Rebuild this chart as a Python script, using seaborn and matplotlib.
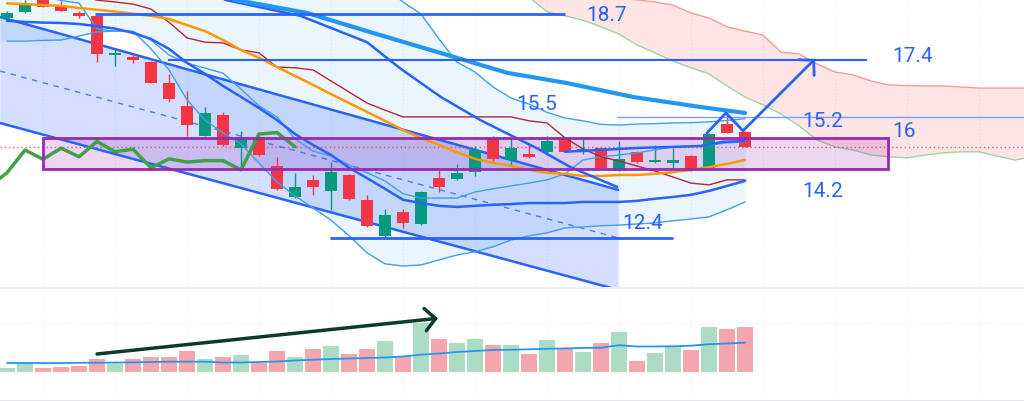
import numpy as np
import pandas as pd
import matplotlib
matplotlib.use("Agg")
import matplotlib.pyplot as plt
from matplotlib.patches import Rectangle
import seaborn as sns

sns.set_theme(style="white")
plt.rcParams["font.family"] = ["Roboto", "DejaVu Sans"]

# candles (price)
opens = [18.59, 18.74, 19.14, 18.92, 18.71, 18.64, 17.55, 17.49, 17.35, 16.75, 16.11, 15.27, 15.86, 14.94,
         15.23, 14.43, 13.54, 14.03, 13.72, 14.17, 13.47, 12.44, 13.14, 12.78, 14.08, 14.06, 14.26, 15.18,
         14.59, 14.76, 14.82, 15.22, 14.81, 14.92, 14.29, 14.82, 14.53, 14.52, 14.70, 14.36, 15.60, 15.37]
highs = [18.78, 19.09, 19.17, 19.06, 18.78, 18.72, 17.75, 17.59, 17.37, 17.01, 16.53, 16.07, 15.95, 15.41,
         15.32, 14.68, 14.22, 14.17, 14.54, 14.20, 13.61, 13.21, 13.21, 13.72, 14.31, 14.47, 14.98, 15.25,
         15.20, 15.07, 15.27, 15.24, 15.17, 14.96, 15.11, 14.84, 15.01, 14.92, 14.73, 15.35, 15.85, 15.41]
lows = [18.55, 18.72, 18.89, 18.78, 18.57, 17.35, 17.24, 17.31, 16.74, 16.23, 15.25, 15.25, 14.98, 14.42,
        14.70, 13.75, 13.52, 13.61, 13.17, 13.47, 12.71, 12.43, 12.69, 12.77, 13.70, 14.03, 14.14, 14.56,
        14.45, 14.65, 14.73, 14.82, 14.75, 14.37, 14.28, 14.51, 14.50, 14.36, 14.28, 14.34, 15.35, 14.96]
closes = [18.73, 19.01, 18.90, 18.78, 18.64, 17.56, 17.60, 17.40, 16.76, 16.30, 15.57, 15.90, 15.01, 15.17,
          14.73, 13.77, 13.82, 13.84, 14.26, 13.49, 12.74, 13.03, 12.83, 13.68, 13.84, 14.23, 14.87, 14.61,
          14.92, 14.68, 15.11, 14.82, 14.89, 14.37, 14.62, 14.53, 14.57, 14.57, 14.31, 15.32, 15.36, 14.96]
volumes = [86, 186, 86, 106, 126, 260, 154, 260, 294, 294, 414, 260, 294, 334, 180, 414, 294, 466, 514, 354,
           454, 614, 294, 980, 660, 580, 660, 546, 546, 366, 634, 486, 400, 586, 794, 214, 380, 526, 434,
           894, 860, 894]
volume_ma = [180, 180, 180, 180, 184, 186, 188, 192, 200, 206, 206, 206, 190, 190, 200, 210, 230, 246, 260,
             270, 280, 290, 310, 346, 370, 400, 420, 440, 446, 454, 464, 472, 480, 486, 536, 510, 510, 514,
             526, 556, 570, 586]

# indicator lines, one value per bar
ema_orange = [18.99, 18.97, 18.94, 18.92, 18.86, 18.81, 18.76, 18.70, 18.64, 18.55, 18.38, 18.21, 17.96,
              17.68, 17.46, 17.20, 16.95, 16.70, 16.44, 16.19, 15.94, 15.69, 15.43, 15.21, 15.01, 14.81,
              14.62, 14.51, 14.42, 14.31, 14.23, 14.20, 14.14, 14.14, 14.17, 14.17, 14.20, 14.25, 14.31,
              14.39, 14.48, 14.59]
kijun = [19.25, 19.08, 19.03, 18.97, 18.83, 18.46, 18.02, 17.90, 17.88, 17.68, 17.60, 17.20, 17.18, 17.12,
         16.81, 16.50, 16.19, 15.99, 15.80, 15.80, 15.80, 15.80, 15.80, 15.80, 15.80, 15.69, 15.63, 15.21,
         14.90, 14.68, 14.56, 14.42, 14.28, 14.11, 13.94, 13.89, 14.03, 14.03]  # from bar 4
basis = [18.50, 18.47, 18.45, 18.44, 18.41, 18.35, 18.28, 18.16, 17.99, 17.71, 17.32, 17.01, 16.67, 16.36,
         16.05, 15.71, 15.32, 15.01, 14.73, 14.37, 14.08, 13.78, 13.47, 13.38, 13.30, 13.27, 13.30, 13.33,
         13.35, 13.38, 13.38, 13.38, 13.41, 13.41, 13.41, 13.44, 13.50, 13.55, 13.61, 13.72, 13.86, 14.00]
fast_line = [17.93, 17.93, 17.95, 17.96, 18.07, 18.19, 18.21, 18.20, 17.96, 17.54, 17.31, 17.17, 17.03,
             16.58, 16.11, 15.80, 15.18, 14.84, 14.70, 14.45, 14.23, 14.00, 13.64, 13.52, 13.52, 13.52,
             13.69, 13.78, 13.86, 13.94, 14.03, 14.20, 14.59, 14.68, 14.73, 14.79, 14.87, 14.96, 14.98,
             15.01, 15.07, 15.10]
band_lower = [19.65, 19.37, 19.20, 19.07, 19.00, 18.27, 18.21, 18.21, 17.71, 17.12, 16.28, 15.71, 15.35,
              15.04, 14.50, 13.97, 13.58, 13.24, 12.90, 12.46, 11.98, 11.67, 11.61, 11.64, 11.78, 11.92,
              12.01, 12.15, 12.34, 12.46, 12.54, 12.68, 12.71, 12.74, 12.76, 12.79, 12.82, 12.88, 12.93,
              12.99, 13.19, 13.41]
band_upper = [19.42, 19.03, 18.69, 17.99, 17.34, 17.06, 16.64, 16.33, 16.16, 15.93, 15.77, 15.69, 15.59,
              15.57, 15.60, 15.61, 15.63, 15.64, 15.66, 15.70, 15.75]  # from bar 21

# cloud, from bar 29
span_a = [19.79, 19.65, 19.51, 19.37, 19.25, 19.14, 19.09, 19.03, 18.94, 18.72, 18.58, 18.33, 18.21, 18.10,
          17.62, 17.57, 17.29, 17.06, 16.98, 16.81, 16.70, 16.68, 16.67, 16.67, 16.64, 16.61, 16.61, 16.61,
          16.61]
span_b = [19.17, 18.75, 18.64, 18.52, 18.33, 18.13, 17.82, 17.60, 17.37, 17.18, 17.01, 16.67, 16.36, 16.14,
          15.88, 15.55, 15.15, 14.96, 14.87, 14.73, 14.68, 14.65, 14.73, 14.79, 14.82, 14.82, 14.70, 14.59,
          14.68]

# drawn trend lines (bar index, price)
trend_x = [12.67, 16.67, 20.33, 24.06, 27.78, 31.11, 34.78, 38.5, 41.0]
trend_y = [19.09, 18.72, 18.16, 17.60, 17.04, 16.75, 16.36, 16.08, 15.91]
curve_x = [12.1, 16.3, 20.0, 21.8, 24.1, 26.3, 27.6, 29.4, 31.3, 33.9]
curve_y = [19.09, 18.64, 17.90, 17.18, 16.36, 15.71, 15.38, 14.93, 14.39, 13.83]
inner_x = [31.0, 32.94, 35.17, 38.5, 39.78, 41.0]
inner_y = [14.82, 14.87, 14.93, 14.98, 15.10, 15.12]
chan_x = [-0.4, 33.95]
chan_upper = [18.61, 13.75]
chan_mid = [17.09, 12.40]
chan_lower = [15.63, 10.94]
box_x = [2.0, 48.94]
box_price = [14.34, 15.2]
path_x = [38.89, 39.94, 40.89, 44.89]
path_y = [15.35, 15.91, 15.41, 17.43]
vol_arrow_x = [5.0, 23.94]
vol_arrow_y = [360, 1074]

# horizontal levels: (price, start bar, end bar)
levels = [(18.7, 4.9, 31.0, 2.0), (17.4, 8.94, 47.8, 1.5), (12.4, 17.94, 37.0, 2.0)]
thin_level = (15.8, 33.9, 56.5)

labels = ["18.7", "17.4", "15.5", "15.2", "16", "14.2", "12.4"]
label_x = [32.2, 49.2, 28.3, 44.2, 49.2, 44.2, 34.2]
label_y = [18.50, 17.34, 16.00, 15.52, 15.24, 13.55, 12.65]

BLUE = "#2962ff"
LIGHT = "#3ea0f0"
GREEN = "#089981"
RED = "#f23645"

n = len(closes)
bars = np.arange(n)
o = np.array(opens)
c = np.array(closes)
up = c >= o
cols = np.where(up, GREEN, RED)

fig = plt.figure(figsize=(10.24, 4.01), dpi=100)
ax = fig.add_axes([0, 0.2843, 1, 0.7157])
axv = fig.add_axes([0, 0, 1, 0.2818])

# grid
for gx in range(2, 58, 4):
    ax.axvline(gx, color="#e8ebf1", lw=0.8, ls=(0, (1, 2)), zorder=0)
    axv.axvline(gx, color="#e8ebf1", lw=0.8, ls=(0, (1, 2)), zorder=0)
axv.axhline(980, color="#e8ebf1", lw=0.8, ls=(0, (1, 2)), zorder=0)

# pale band fill
band_top = np.full(n, 19.6)
band_top[21:] = band_upper
band_low = np.minimum(np.array(fast_line), np.array(band_lower))
ax.fill_between(np.r_[-0.4, bars], np.r_[band_top[0], band_top], np.r_[band_low[0], band_low],
                color="#2196f3", alpha=0.09, lw=0, zorder=1)

# cloud
cloud_x = np.arange(29, 29 + len(span_a))
ax.fill_between(cloud_x, span_a, span_b, color=RED, alpha=0.13, lw=0, zorder=1)
sns.lineplot(x=cloud_x, y=span_a, ax=ax, color="#f49a97", lw=1, zorder=2)
sns.lineplot(x=cloud_x, y=span_b, ax=ax, color="#9fd4a2", lw=1, zorder=2)

# regression channel
ax.fill_between(chan_x, chan_upper, chan_lower, color=BLUE, alpha=0.2, lw=0, zorder=1.5)
sns.lineplot(x=chan_x, y=chan_upper, ax=ax, color=BLUE, lw=1.8, zorder=3)
sns.lineplot(x=chan_x, y=chan_lower, ax=ax, color=BLUE, lw=1.8, zorder=3)
ax.plot(chan_x, chan_mid, color=BLUE, lw=1, ls=(0, (4, 4)), zorder=3, alpha=0.8)

# box
ax.add_patch(Rectangle((box_x[0], box_price[0]), box_x[1] - box_x[0], box_price[1] - box_price[0],
                       facecolor="#9c27b0", alpha=0.19, edgecolor="none", zorder=2))
ax.add_patch(Rectangle((box_x[0], box_price[0]), box_x[1] - box_x[0], box_price[1] - box_price[0],
                       fill=False, edgecolor="#9c27b0", lw=2, zorder=6))

# candles
body_lo = np.minimum(o, c)
body_h = np.abs(c - o)
small = body_h < 0.06
body_lo = np.where(small, (o + c) / 2 - 0.03, body_lo)
body_h = np.where(small, 0.06, body_h)
ax.vlines(bars, lows, highs, colors=cols, lw=1, zorder=4)
ax.bar(bars, body_h, bottom=body_lo, width=0.72, color=cols, lw=0, zorder=4.5)

# indicator lines
sns.lineplot(x=bars, y=band_lower, ax=ax, color=LIGHT, lw=1, zorder=5)
sns.lineplot(x=bars, y=fast_line, ax=ax, color=LIGHT, lw=1, zorder=5)
sns.lineplot(x=bars[21:], y=band_upper, ax=ax, color=LIGHT, lw=1, zorder=5)
sns.lineplot(x=bars[4:], y=kijun, ax=ax, color="#b22833", lw=1, zorder=5)
sns.lineplot(x=bars, y=ema_orange, ax=ax, color="#ff9800", lw=1.8, zorder=5)
sns.lineplot(x=bars, y=basis, ax=ax, color=BLUE, lw=1.8, zorder=5)
sns.lineplot(x=curve_x, y=curve_y, ax=ax, color=BLUE, lw=1.8, zorder=5)
sns.lineplot(x=inner_x, y=inner_y, ax=ax, color=BLUE, lw=1.8, zorder=5)
sns.lineplot(x=trend_x, y=trend_y, ax=ax, color="#2196f3", lw=3, zorder=5)

# lagging close
lag_x = np.arange(n - 24) - 1
sns.lineplot(x=lag_x, y=closes[24:], ax=ax, color="#43a047", lw=2.5, zorder=5)

# levels
for price, x0, x1, w in levels:
    ax.hlines(price, x0, x1, color=BLUE, lw=w, zorder=5)
ax.hlines(thin_level[0], thin_level[1], thin_level[2], color="#7c9cf5", lw=1, zorder=5)
ax.axhline(closes[-1], color=RED, lw=1, ls=(0, (1, 2)), alpha=0.8, zorder=3)

# projection path
sns.lineplot(x=path_x[:3], y=path_y[:3], ax=ax, color=BLUE, lw=2, zorder=7, sort=False)
ax.annotate("", xy=(path_x[3], path_y[3]), xytext=(path_x[2], path_y[2]),
            arrowprops=dict(arrowstyle="->,head_length=0.75,head_width=0.8", color=BLUE, lw=2,
                            shrinkA=0, shrinkB=0, mutation_scale=10), zorder=7)

for s, x, y in zip(labels, label_x, label_y):
    ax.text(x, y, s, color=BLUE, fontsize=15, ha="left", va="baseline", zorder=8)

# volume pane
df = pd.DataFrame({"bar": bars, "vol": volumes, "dir": np.where(up, "up", "down")})
sns.barplot(data=df, x="bar", y="vol", hue="dir", palette={"up": "#acddc4", "down": "#f5a6ac"},
            dodge=False, width=0.94, saturation=1, errorbar=None, legend=False, lw=0, ax=axv)
sns.lineplot(x=bars, y=volume_ma, ax=axv, color="#2196f3", lw=1.3, zorder=5)
axv.annotate("", xy=(vol_arrow_x[1], vol_arrow_y[1]), xytext=(vol_arrow_x[0], vol_arrow_y[0]),
             arrowprops=dict(arrowstyle="->,head_length=0.75,head_width=0.8", color="#0d3b2b", lw=2.5,
                             shrinkA=0, shrinkB=0, mutation_scale=10), zorder=7)

for a in (ax, axv):
    a.set_xlim(-0.39, 56.5)
    a.set_xticks([])
    a.set_yticks([])
    a.set_xlabel("")
    a.set_ylabel("")
    for sp in a.spines.values():
        sp.set_visible(False)
ax.set_ylim(11.02, 19.085)
axv.set_ylim(-580, 1680)
axv.spines["top"].set_visible(True)
axv.spines["top"].set_color("#eef0f4")
axv.spines["bottom"].set_visible(True)
axv.spines["bottom"].set_color("#e0e3eb")

fig.savefig("out.png", dpi=100, facecolor="white")
